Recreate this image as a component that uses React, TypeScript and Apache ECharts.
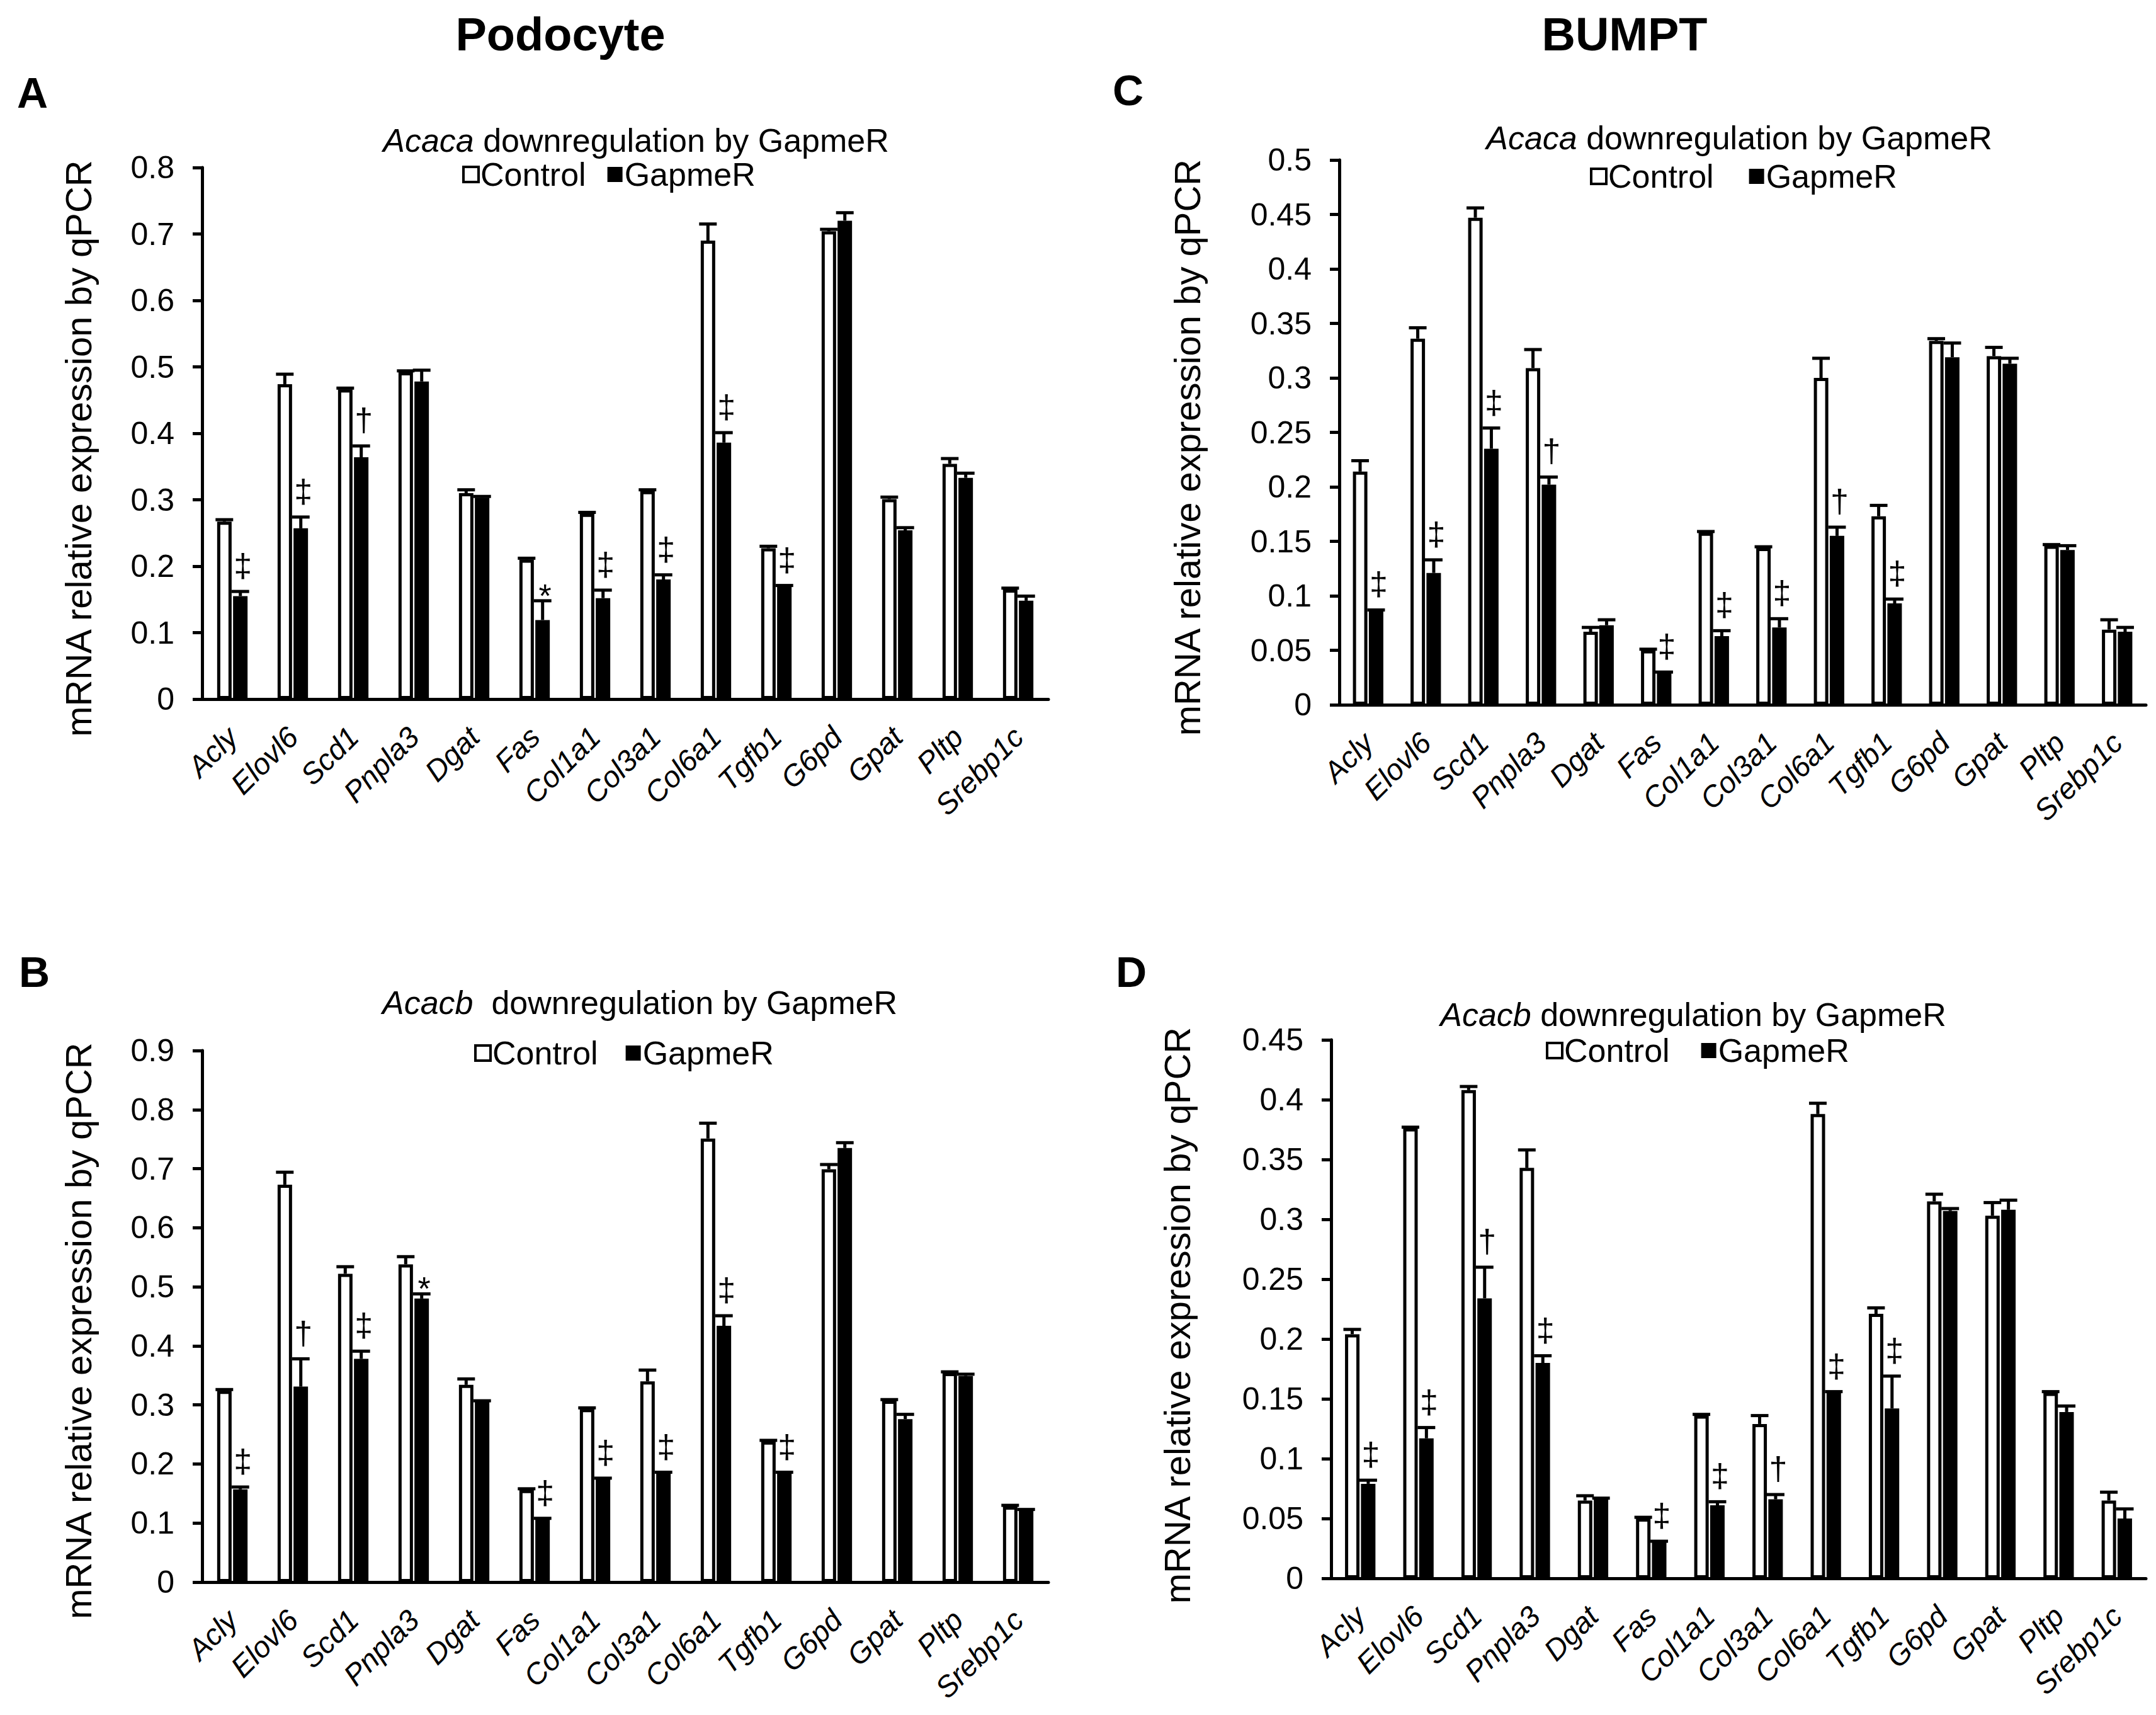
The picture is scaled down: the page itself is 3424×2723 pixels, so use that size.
import React, { useEffect, useRef } from "react";
import * as echarts from "echarts";

const categories = ["Acly", "Elovl6", "Scd1", "Pnpla3", "Dgat", "Fas", "Col1a1", "Col3a1", "Col6a1", "Tgfb1", "G6pd", "Gpat", "Pltp", "Srebp1c"];

// Panel A: Podocyte, Acaca downregulation
const aControl = [0.267, 0.474, 0.466, 0.492, 0.310, 0.210, 0.279, 0.313, 0.690, 0.227, 0.704, 0.301, 0.354, 0.165];
const aControlErr = [0.003, 0.015, 0.002, 0.002, 0.005, 0.002, 0.002, 0.002, 0.025, 0.003, 0.003, 0.003, 0.008, 0.002];
const aGapmer = [0.155, 0.257, 0.364, 0.478, 0.303, 0.119, 0.152, 0.180, 0.386, 0.169, 0.720, 0.254, 0.333, 0.148];
const aGapmerErr = [0.007, 0.017, 0.017, 0.017, 0.002, 0.029, 0.012, 0.007, 0.015, 0.002, 0.012, 0.004, 0.007, 0.007];
const aMarks = ["‡", "‡", "†", "", "", "*", "‡", "‡", "‡", "‡", "", "", "", ""];

// Panel B: Podocyte, Acacb downregulation
const bControl = [0.324, 0.673, 0.522, 0.538, 0.334, 0.156, 0.293, 0.340, 0.751, 0.238, 0.699, 0.307, 0.354, 0.128];
const bControlErr = [0.002, 0.021, 0.012, 0.013, 0.010, 0.002, 0.002, 0.019, 0.026, 0.002, 0.008, 0.002, 0.002, 0.002];
const bGapmer = [0.157, 0.331, 0.378, 0.480, 0.306, 0.106, 0.174, 0.185, 0.434, 0.185, 0.735, 0.276, 0.349, 0.122];
const bGapmerErr = [0.004, 0.047, 0.013, 0.008, 0.001, 0.002, 0.002, 0.001, 0.017, 0.001, 0.009, 0.008, 0.003, 0.001];
const bMarks = ["‡", "†", "‡", "*", "", "‡", "‡", "‡", "‡", "‡", "", "", "", ""];

// Panel C: BUMPT, Acaca downregulation
const cControl = [0.214, 0.336, 0.447, 0.309, 0.067, 0.050, 0.158, 0.144, 0.300, 0.173, 0.334, 0.320, 0.146, 0.069];
const cControlErr = [0.010, 0.010, 0.009, 0.017, 0.004, 0.001, 0.001, 0.001, 0.018, 0.010, 0.002, 0.008, 0.001, 0.009];
const cGapmer = [0.086, 0.121, 0.235, 0.202, 0.073, 0.029, 0.063, 0.071, 0.155, 0.093, 0.319, 0.313, 0.142, 0.067];
const cGapmerErr = [0.001, 0.012, 0.019, 0.007, 0.005, 0.001, 0.005, 0.008, 0.008, 0.004, 0.013, 0.005, 0.004, 0.004];
const cMarks = ["‡", "‡", "‡", "†", "", "‡", "‡", "‡", "†", "‡", "", "", "", ""];

// Panel D: BUMPT, Acacb downregulation
const dControl = [0.204, 0.376, 0.408, 0.343, 0.065, 0.050, 0.136, 0.129, 0.388, 0.221, 0.315, 0.303, 0.155, 0.065];
const dControlErr = [0.004, 0.001, 0.003, 0.015, 0.004, 0.001, 0.001, 0.007, 0.009, 0.005, 0.006, 0.011, 0.001, 0.007];
const dGapmer = [0.079, 0.117, 0.234, 0.180, 0.066, 0.030, 0.061, 0.066, 0.155, 0.142, 0.307, 0.308, 0.139, 0.050];
const dGapmerErr = [0.003, 0.009, 0.026, 0.006, 0.001, 0.001, 0.003, 0.004, 0.001, 0.027, 0.002, 0.008, 0.005, 0.008];
const dMarks = ["‡", "‡", "†", "‡", "", "‡", "‡", "†", "‡", "‡", "", "", "", ""];

const FONT = "'Liberation Sans', Arial, Helvetica, sans-serif";
const BAR_W = 23;

type Panel = {
  ctrl: number[]; ctrlErr: number[]; gap: number[]; gapErr: number[]; marks: string[];
  max: number; interval: number;
  grid: { left: number; top: number; width: number; height: number };
  nameGap: number; nameShift: number;
  legend: { left: number; top: number; gap: number };
  gene: string; sep: string; sub: { x: number; y: number };
  letter: { text: string; x: number; y: number };
};

const panels: Panel[] = [
  {
    ctrl: aControl, ctrlErr: aControlErr, gap: aGapmer, gapErr: aGapmerErr, marks: aMarks,
    max: 0.8, interval: 0.1,
    grid: { left: 321, top: 266, width: 1344, height: 844 },
    nameGap: 168, nameShift: 48,
    legend: { left: 734, top: 251, gap: 34 },
    gene: "Acaca", sep: " ", sub: { x: 1010, y: 223 },
    letter: { text: "A", x: 27, y: 147 },
  },
  {
    ctrl: bControl, ctrlErr: bControlErr, gap: bGapmer, gapErr: bGapmerErr, marks: bMarks,
    max: 0.9, interval: 0.1,
    grid: { left: 321, top: 1668, width: 1344, height: 844 },
    nameGap: 168, nameShift: 46,
    legend: { left: 753, top: 1646, gap: 44 },
    gene: "Acacb", sep: "  ", sub: { x: 1016, y: 1592 },
    letter: { text: "B", x: 30, y: 1543 },
  },
  {
    ctrl: cControl, ctrlErr: cControlErr, gap: cGapmer, gapErr: cGapmerErr, marks: cMarks,
    max: 0.5, interval: 0.05,
    grid: { left: 2127, top: 254, width: 1281, height: 865 },
    nameGap: 213, nameShift: 48,
    legend: { left: 2525, top: 254, gap: 56 },
    gene: "Acaca", sep: " ", sub: { x: 2762, y: 219 },
    letter: { text: "C", x: 1767, y: 143 },
  },
  {
    ctrl: dControl, ctrlErr: dControlErr, gap: dGapmer, gapErr: dGapmerErr, marks: dMarks,
    max: 0.45, interval: 0.05,
    grid: { left: 2114, top: 1651, width: 1294, height: 855 },
    nameGap: 216, nameShift: 20,
    legend: { left: 2455, top: 1642, gap: 50 },
    gene: "Acacb", sep: " ", sub: { x: 2689, y: 1611 },
    letter: { text: "D", x: 1772, y: 1543 },
  },
];

function buildOption() {
  const grid: any[] = [];
  const xAxis: any[] = [];
  const yAxis: any[] = [];
  const series: any[] = [];
  const legend: any[] = [];
  const elements: any[] = [];

  panels.forEach((p, k) => {
    grid.push({ ...p.grid, containLabel: false });
    xAxis.push({
      type: "category",
      gridIndex: k,
      data: categories,
      axisLine: { show: true, lineStyle: { color: "#000", width: 5 } },
      axisTick: { show: false },
      axisLabel: {
        interval: 0, rotate: 45, margin: 52, color: "#000",
        fontSize: 47, fontStyle: "italic", fontFamily: FONT,
      },
      splitLine: { show: false },
    });
    yAxis.push({
      type: "value",
      gridIndex: k,
      min: 0, max: p.max, interval: p.interval,
      axisLine: { show: true, lineStyle: { color: "#000", width: 5 } },
      axisTick: { show: true, length: 15, lineStyle: { color: "#000", width: 5 } },
      axisLabel: {
        color: "#000", fontSize: 50, fontFamily: FONT, margin: 44,
        formatter: (v: number) => String(+v.toFixed(2)),
      },
      splitLine: { show: false },
      name: "mRNA relative expression by qPCR",
      nameLocation: "middle",
      nameRotate: 90,
      nameGap: p.nameGap,
      nameTextStyle: { color: "#000", fontSize: 58, fontFamily: FONT, padding: [0, p.nameShift, 0, 0] },
    });
    series.push({
      type: "bar", name: "Control", xAxisIndex: k, yAxisIndex: k,
      data: p.ctrl, barWidth: BAR_W, barGap: "10%",
      itemStyle: { color: "#fff", borderColor: "#000", borderWidth: 5 },
      z: 2,
    });
    series.push({
      type: "bar", name: "GapmeR", xAxisIndex: k, yAxisIndex: k,
      data: p.gap, barWidth: BAR_W, barGap: "10%",
      itemStyle: { color: "#000", borderColor: "#000", borderWidth: 0 },
      z: 2,
    });
    const rows = categories.map((_, i) => [i, p.ctrl[i], p.ctrlErr[i], p.gap[i], p.gapErr[i]]);
    const marks = p.marks;
    series.push({
      type: "custom", name: "errors", xAxisIndex: k, yAxisIndex: k,
      data: rows,
      encode: { x: 0, y: 1 },
      z: 5,
      silent: true,
      renderItem: (params: any, api: any) => {
        const i = api.value(0);
        const c = api.value(1), ce = api.value(2), g = api.value(3), ge = api.value(4);
        const off = BAR_W / 2 + 1.2;
        const cBase = api.coord([i, c]);
        const cTop = api.coord([i, c + ce]);
        const gBase = api.coord([i, g]);
        const gTop = api.coord([i, g + ge]);
        const cx = cBase[0] - off;
        const gx = gBase[0] + off;
        const ls = { stroke: "#000", lineWidth: 5 };
        const half = 14;
        const children: any[] = [
          { type: "line", shape: { x1: cx, y1: cBase[1], x2: cx, y2: cTop[1] }, style: ls },
          { type: "line", shape: { x1: cx - half, y1: cTop[1], x2: cx + half, y2: cTop[1] }, style: ls },
          { type: "line", shape: { x1: gx, y1: gBase[1], x2: gx, y2: gTop[1] }, style: ls },
          { type: "line", shape: { x1: gx - half, y1: gTop[1], x2: gx + half, y2: gTop[1] }, style: ls },
        ];
        const m = marks[params.dataIndex];
        if (m) {
          const dy = m === "*" ? 8 : 41;
          children.push({
            type: "text",
            x: gx + 4,
            y: gTop[1] - dy,
            style: {
              text: m, fill: "#000", fontSize: 52, fontFamily: FONT,
              align: "center", verticalAlign: "middle",
            },
          });
        }
        return { type: "group", children };
      },
    });
    legend.push({
      left: p.legend.left, top: p.legend.top, padding: 0,
      orient: "horizontal", itemGap: p.legend.gap,
      itemWidth: 24, itemHeight: 24, icon: "rect",
      selectedMode: false,
      textStyle: { color: "#000", fontSize: 52, fontFamily: FONT, padding: [0, 0, 0, -2] },
      data: [
        { name: "Control", itemStyle: { color: "#fff", borderColor: "#000", borderWidth: 4 } },
        { name: "GapmeR", itemStyle: { color: "#000", borderColor: "#000", borderWidth: 0 } },
      ],
    });
    elements.push({
      type: "text",
      x: p.sub.x, y: p.sub.y,
      style: {
        text: `{i|${p.gene}}{n|${p.sep}downregulation by GapmeR}`,
        align: "center", verticalAlign: "middle",
        fill: "#000", fontSize: 52, fontFamily: FONT,
        rich: {
          i: { fontStyle: "italic", fontSize: 52, fontFamily: FONT, fill: "#000" },
          n: { fontSize: 52, fontFamily: FONT, fill: "#000" },
        },
      },
    });
    elements.push({
      type: "text",
      x: p.letter.x, y: p.letter.y,
      style: {
        text: p.letter.text, align: "left", verticalAlign: "middle",
        fill: "#000", fontSize: 68, fontWeight: "bold", fontFamily: FONT,
      },
    });
  });

  elements.push({
    type: "text", x: 890, y: 54,
    style: { text: "Podocyte", align: "center", verticalAlign: "middle", fill: "#000", fontSize: 74, fontWeight: "bold", fontFamily: FONT },
  });
  elements.push({
    type: "text", x: 2580, y: 54,
    style: { text: "BUMPT", align: "center", verticalAlign: "middle", fill: "#000", fontSize: 74, fontWeight: "bold", fontFamily: FONT },
  });

  return {
    animation: false,
    backgroundColor: "#ffffff",
    textStyle: { fontFamily: FONT },
    grid, xAxis, yAxis, series, legend,
    graphic: { elements },
  };
}

export default function App() {
  const ref = useRef<HTMLDivElement>(null);
  useEffect(() => {
    if (!ref.current) return;
    const chart = echarts.init(ref.current, undefined, { renderer: "svg" });
    chart.setOption(buildOption() as any);
    return () => chart.dispose();
  }, []);
  return (
    <div
      ref={ref}
      style={{ position: "absolute", left: 0, top: 0, width: 3424, height: 2723, background: "#fff" }}
    />
  );
}
